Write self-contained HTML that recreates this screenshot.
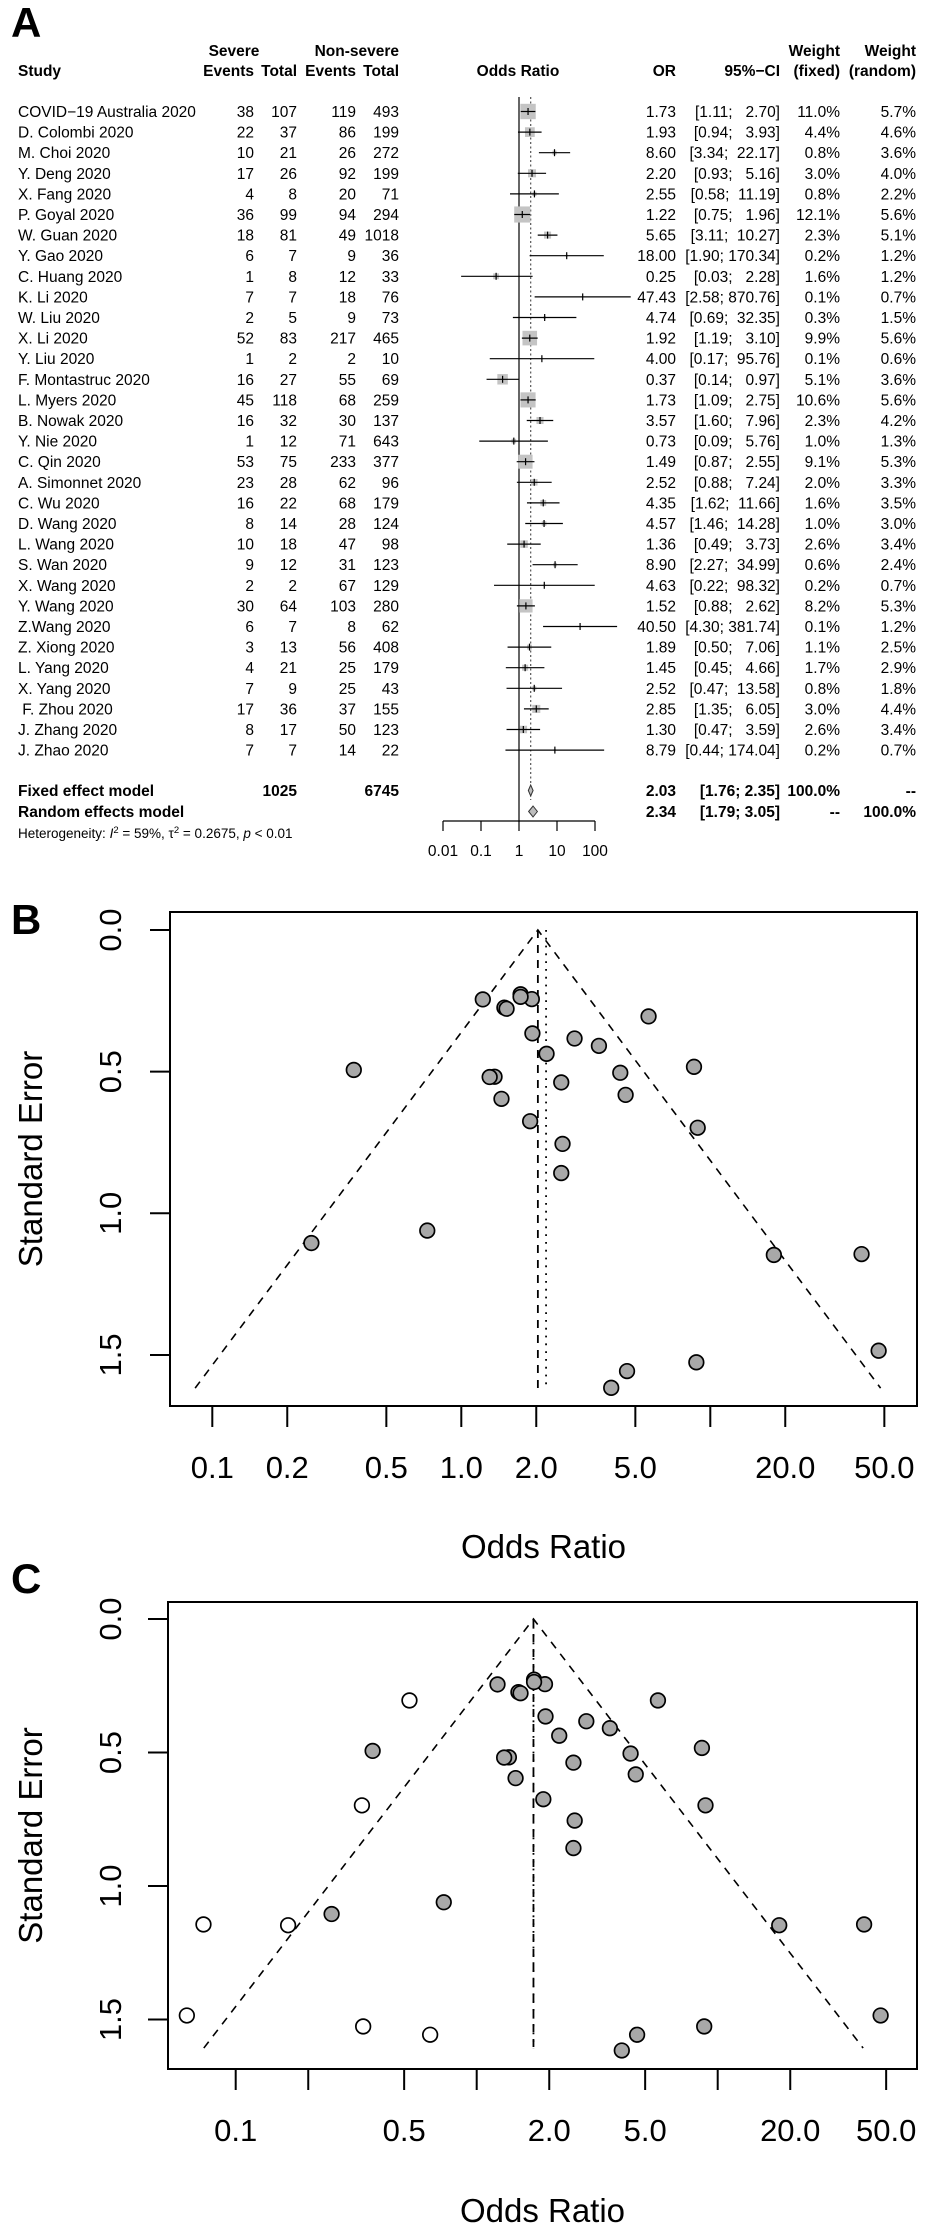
<!DOCTYPE html>
<html><head><meta charset="utf-8"><title>Forest and funnel plots</title>
<style>
html,body{margin:0;padding:0;background:#fff;}
svg{display:block;font-family:"Liberation Sans",Arial,sans-serif;}
.t{font-size:15.5px;fill:#000;white-space:pre;}
.b{font-weight:bold;}
.tick{font-size:31px;}
.lab{font-size:33px;}
</style></head>
<body>
<svg id="fig" width="932" height="2226" viewBox="0 0 932 2226" xmlns="http://www.w3.org/2000/svg">
  <text x="11" y="37" font-size="42" font-weight="bold">A</text>
  <text x="11" y="934" font-size="42" font-weight="bold">B</text>
  <text x="11" y="1593" font-size="42" font-weight="bold">C</text>

  <g id="forest">
    <text class="t b" x="234" y="56" text-anchor="middle">Severe</text>
    <text class="t b" x="399" y="56" text-anchor="end">Non-severe</text>
    <text class="t b" x="18" y="76">Study</text>
    <text class="t b" x="254" y="76" text-anchor="end">Events</text>
    <text class="t b" x="297" y="76" text-anchor="end">Total</text>
    <text class="t b" x="356" y="76" text-anchor="end">Events</text>
    <text class="t b" x="399" y="76" text-anchor="end">Total</text>
    <text class="t b" x="518" y="76" text-anchor="middle">Odds Ratio</text>
    <text class="t b" x="676" y="76" text-anchor="end">OR</text>
    <text class="t b" x="780" y="76" text-anchor="end">95%−CI</text>
    <text class="t b" x="840" y="56" text-anchor="end">Weight</text>
    <text class="t b" x="840" y="76" text-anchor="end">(fixed)</text>
    <text class="t b" x="916" y="56" text-anchor="end">Weight</text>
    <text class="t b" x="916" y="76" text-anchor="end">(random)</text>

    <text class="t b" x="18" y="796">Fixed effect model</text>
    <text class="t b" x="297" y="796" text-anchor="end">1025</text>
    <text class="t b" x="399" y="796" text-anchor="end">6745</text>
    <text class="t b" x="18" y="817">Random effects model</text>
    <text class="t" x="18" y="838" font-size="13.5" style="font-size:13.5px">Heterogeneity: <tspan font-style="italic">I</tspan><tspan baseline-shift="super" font-size="9.5">2</tspan> = 59%, τ<tspan baseline-shift="super" font-size="9.5">2</tspan> = 0.2675, <tspan font-style="italic">p</tspan> &lt; 0.01</text>
  </g>
  <g id="funnelB"></g>
  <g id="funnelC"></g>
</svg>
<script>
// ---------- Forest plot data ----------
const studies = ["COVID−19 Australia 2020","D. Colombi 2020","M. Choi 2020","Y. Deng 2020","X. Fang 2020","P. Goyal 2020","W. Guan 2020","Y. Gao 2020","C. Huang 2020","K. Li 2020","W. Liu 2020","X. Li 2020","Y. Liu 2020","F. Montastruc 2020","L. Myers 2020","B. Nowak 2020","Y. Nie 2020","C. Qin 2020","A. Simonnet 2020","C. Wu 2020","D. Wang 2020","L. Wang 2020","S. Wan 2020","X. Wang 2020","Y. Wang 2020","Z.Wang 2020","Z. Xiong 2020","L. Yang 2020","X. Yang 2020"," F. Zhou 2020","J. Zhang 2020","J. Zhao 2020"];
const sevEvents = [38,22,10,17,4,36,18,6,1,7,2,52,1,16,45,16,1,53,23,16,8,10,9,2,30,6,3,4,7,17,8,7];
const sevTotal = [107,37,21,26,8,99,81,7,8,7,5,83,2,27,118,32,12,75,28,22,14,18,12,2,64,7,13,21,9,36,17,7];
const nsEvents = [119,86,26,92,20,94,49,9,12,18,9,217,2,55,68,30,71,233,62,68,28,47,31,67,103,8,56,25,25,37,50,14];
const nsTotal = [493,199,272,199,71,294,1018,36,33,76,73,465,10,69,259,137,643,377,96,179,124,98,123,129,280,62,408,179,43,155,123,22];
const orVals = [1.73,1.93,8.60,2.20,2.55,1.22,5.65,18.00,0.25,47.43,4.74,1.92,4.00,0.37,1.73,3.57,0.73,1.49,2.52,4.35,4.57,1.36,8.90,4.63,1.52,40.50,1.89,1.45,2.52,2.85,1.30,8.79];
const ciLow = [1.11,0.94,3.34,0.93,0.58,0.75,3.11,1.90,0.03,2.58,0.69,1.19,0.17,0.14,1.09,1.60,0.09,0.87,0.88,1.62,1.46,0.49,2.27,0.22,0.88,4.30,0.50,0.45,0.47,1.35,0.47,0.44];
const ciHigh = [2.70,3.93,22.17,5.16,11.19,1.96,10.27,170.34,2.28,870.76,32.35,3.10,95.76,0.97,2.75,7.96,5.76,2.55,7.24,11.66,14.28,3.73,34.99,98.32,2.62,381.74,7.06,4.66,13.58,6.05,3.59,174.04];
const wFixed = [11.0,4.4,0.8,3.0,0.8,12.1,2.3,0.2,1.6,0.1,0.3,9.9,0.1,5.1,10.6,2.3,1.0,9.1,2.0,1.6,1.0,2.6,0.6,0.2,8.2,0.1,1.1,1.7,0.8,3.0,2.6,0.2];
const wRandom = [5.7,4.6,3.6,4.0,2.2,5.6,5.1,1.2,1.2,0.7,1.5,5.6,0.6,3.6,5.6,4.2,1.3,5.3,3.3,3.5,3.0,3.4,2.4,0.7,5.3,1.2,2.5,2.9,1.8,4.4,3.4,0.7];
const pooledNames = ["fixed","random"];
const pooledOR = [2.03,2.34];
const pooledLow = [1.76,1.79];
const pooledHigh = [2.35,3.05];
const forestTicks = [0.01,0.1,1,10,100];
const forestTickLabels = ["0.01","0.1","1","10","100"];

// ---------- Funnel data (OR and standard error) ----------
const funnelOR = [1.73,1.93,8.60,2.20,2.55,1.22,5.65,18.00,0.25,47.43,1.92,4.00,0.37,1.73,3.57,0.73,1.49,2.52,4.35,4.57,1.36,8.90,4.63,1.52,40.50,1.89,1.45,2.52,2.85,1.30,8.79];
const funnelSE = [0.227,0.365,0.483,0.437,0.755,0.245,0.305,1.147,1.105,1.485,0.244,1.616,0.494,0.236,0.409,1.061,0.274,0.538,0.504,0.582,0.518,0.698,1.557,0.278,1.144,0.675,0.596,0.858,0.383,0.519,1.526];
const refB = [2.03,2.19];
const refC = [1.72,1.72];
const filledOR = [0.526,0.334,0.0735,0.165,0.0627,0.338,0.641];
const filledSE = [0.305,0.698,1.144,1.147,1.485,1.526,1.557];
const funnelSEMaxB = 1.617;
const funnelSEMaxC = 1.607;
const funnelTicksB = [0.1,0.2,0.5,1,2,5,10,20,50];
const funnelLabelsB = ["0.1","0.2","0.5","1.0","2.0","5.0","","20.0","50.0"];
const funnelLabelsC = ["0.1","","0.5","","2.0","5.0","","20.0","50.0"];
const seTicks = [0,0.5,1,1.5];
const seTickLabels = ["0.0","0.5","1.0","1.5"];

const NS = "http://www.w3.org/2000/svg";
function mk(parent, tag, attrs){
  const e = document.createElementNS(NS, tag);
  for (const k in attrs) e.setAttribute(k, attrs[k]);
  parent.appendChild(e);
  return e;
}
const lg = Math.log10;

(function(){
  const g = document.getElementById('forest');
  const fx = v => 519 + 38 * lg(v);
  const rowY = i => 111.5 + i * 20.6;
  const baseY = i => 117 + i * 20.6;
  const pad = (s, n) => s.length >= n ? s : ' '.repeat(n - s.length) + s;
  const l1 = mk(g,'line',{x1:fx(1),x2:fx(1),y1:97,y2:822,stroke:'#000','stroke-width':1.2});
  
  
  const l2 = mk(g,'line',{x1:fx(pooledOR[0]),x2:fx(pooledOR[0]),y1:97,y2:800,stroke:'#555','stroke-width':1.2,'stroke-dasharray':'2,2.5'});
  
  
  studies.forEach((s,i)=>{
    const y = rowY(i), b = baseY(i);
    const t1 = mk(g,'text',{class:'t',x:18,y:b}); t1.textContent = s;
    
    
    const cols = [[254,sevEvents[i]],[297,sevTotal[i]],[356,nsEvents[i]],[399,nsTotal[i]]];
    cols.forEach(c=>{
      const t = mk(g,'text',{class:'t',x:c[0],y:b,'text-anchor':'end'}); t.textContent = String(c[1]);
      
      
    });
    const to = mk(g,'text',{class:'t',x:676,y:b,'text-anchor':'end'}); to.textContent = orVals[i].toFixed(2);
    
    
    const tc = mk(g,'text',{class:'t',x:780,y:b,'text-anchor':'end'});
    tc.textContent = '[' + pad(ciLow[i].toFixed(2),4) + '; ' + pad(ciHigh[i].toFixed(2),6) + ']';
    
    
    const tw = mk(g,'text',{class:'t',x:840,y:b,'text-anchor':'end'}); tw.textContent = wFixed[i].toFixed(1)+'%';
    
    
    const tr = mk(g,'text',{class:'t',x:916,y:b,'text-anchor':'end'}); tr.textContent = wRandom[i].toFixed(1)+'%';
    
    
    const sz = 4.64 * Math.sqrt(wFixed[i]);
    const bx = mk(g,'rect',{x:fx(orVals[i])-sz/2,y:y-sz/2,width:sz,height:sz,fill:'#c4c4c4'});
    
    
    const ln = mk(g,'line',{x1:fx(ciLow[i]),x2:fx(ciHigh[i]),y1:y,y2:y,stroke:'#000','stroke-width':1.2});
    
    
    const pt = mk(g,'line',{x1:fx(orVals[i]),x2:fx(orVals[i]),y1:y-3.5,y2:y+3.5,stroke:'#000','stroke-width':1.2});
    
    
  });
  const pY = [790.5, 811.5], pB = [796, 817];
  pooledNames.forEach((n,k)=>{
    const y = pY[k], x0 = fx(pooledLow[k]), x1 = fx(pooledHigh[k]), xm = fx(pooledOR[k]);
    const d = mk(g,'polygon',{points:`${x0},${y} ${xm},${y-5.5} ${x1},${y} ${xm},${y+5.5}`,fill:'#bdbdbd',stroke:'#333','stroke-width':1});
    
    
    const to = mk(g,'text',{class:'t b',x:676,y:pB[k],'text-anchor':'end'}); to.textContent = pooledOR[k].toFixed(2);
    
    
    const tc = mk(g,'text',{class:'t b',x:780,y:pB[k],'text-anchor':'end'});
    tc.textContent = '[' + pooledLow[k].toFixed(2) + '; ' + pad(pooledHigh[k].toFixed(2),4) + ']';
    
    
    const w1 = mk(g,'text',{class:'t b',x:840,y:pB[k],'text-anchor':'end'}); w1.textContent = k===0 ? '100.0%' : '--';
    
    
    const w2 = mk(g,'text',{class:'t b',x:916,y:pB[k],'text-anchor':'end'}); w2.textContent = k===0 ? '--' : '100.0%';
    
    
  });
  const ax = mk(g,'line',{x1:fx(forestTicks[0]),x2:fx(forestTicks[forestTicks.length-1]),y1:821,y2:821,stroke:'#000','stroke-width':1.2});
  
  
  forestTicks.forEach((v,k)=>{
    const tk = mk(g,'line',{x1:fx(v),x2:fx(v),y1:821,y2:831,stroke:'#000','stroke-width':1.2});
    
    
    const tl = mk(g,'text',{class:'t',x:fx(v),y:856,'text-anchor':'middle'}); tl.textContent = forestTickLabels[k];
    
    
  });
})();

function funnel(gid, cfg){
  const g = document.getElementById(gid);
  const X = v => cfg.x1 + cfg.dec * lg(v);
  const Y = s => cfg.y0 + cfg.ppu * s;
  const box = mk(g,'rect',{x:cfg.L,y:cfg.T,width:cfg.R-cfg.L,height:cfg.B-cfg.T,fill:'none',stroke:'#000','stroke-width':2});
  
  
  seTicks.forEach((s,k)=>{
    const tk = mk(g,'line',{x1:cfg.L-20,x2:cfg.L,y1:Y(s),y2:Y(s),stroke:'#000','stroke-width':2});
    
    
    const tl = mk(g,'text',{class:'tick',x:121,y:Y(s),'text-anchor':'middle',transform:`rotate(-90 121 ${Y(s)})`}); tl.textContent = seTickLabels[k];
    
    
  });
  const cy = (cfg.T+cfg.B)/2;
  const yt = mk(g,'text',{class:'lab',x:42,y:cy,'text-anchor':'middle',transform:`rotate(-90 42 ${cy})`}); yt.textContent = 'Standard Error';
  
  
  funnelTicksB.forEach((v,k)=>{
    const tk = mk(g,'line',{x1:X(v),x2:X(v),y1:cfg.B,y2:cfg.B+21,stroke:'#000','stroke-width':2});
    
    
    if (cfg.labels[k]) {
      const tl = mk(g,'text',{class:'tick',x:X(v),y:cfg.B+72,'text-anchor':'middle'}); tl.textContent = cfg.labels[k];
      
      
    }
  });
  const xt = mk(g,'text',{class:'lab',x:(cfg.L+cfg.R)/2,y:cfg.titleY,'text-anchor':'middle'}); xt.textContent = 'Odds Ratio';
  
  
  const c = cfg.ref[0], sm = cfg.seMax;
  const lo = Math.exp(Math.log(c) - 1.96*sm), hi = Math.exp(Math.log(c) + 1.96*sm);
  const f1 = mk(g,'polyline',{points:`${X(lo)},${Y(sm)} ${X(c)},${Y(0)} ${X(hi)},${Y(sm)}`,fill:'none',stroke:'#000','stroke-width':1.6,'stroke-dasharray':'8,7'});
  
  
  const v1 = mk(g,'line',{x1:X(cfg.ref[0]),x2:X(cfg.ref[0]),y1:Y(0),y2:Y(sm),stroke:'#000','stroke-width':1.8,'stroke-dasharray':'8,7'});
  
  
  const v2 = mk(g,'line',{x1:X(cfg.ref[1]),x2:X(cfg.ref[1]),y1:Y(0),y2:Y(sm),stroke:'#000','stroke-width':1.8,'stroke-dasharray':'1.8,6'});
  
  
  funnelOR.forEach((v,i)=>{
    const p = mk(g,'circle',{cx:X(v),cy:Y(funnelSE[i]),r:7.3,fill:'#a8a8a8',stroke:'#000','stroke-width':1.7});
    
    
  });
  if (cfg.filled) filledOR.forEach((v,i)=>{
    const p = mk(g,'circle',{cx:X(v),cy:Y(filledSE[i]),r:7.3,fill:'#fff',stroke:'#000','stroke-width':1.7});
    
    
  });
}
funnel('funnelB',{L:170,R:917,T:912,B:1406,x1:461.3,dec:249,y0:930,ppu:283.3,ref:refB,seMax:funnelSEMaxB,labels:funnelLabelsB,titleY:1558,filled:false});
funnel('funnelC',{L:168,R:917,T:1602,B:2069,x1:476.7,dec:241,y0:1619,ppu:267,ref:refC,seMax:funnelSEMaxC,labels:funnelLabelsC,titleY:2222,filled:true});
</script>
</body></html>
